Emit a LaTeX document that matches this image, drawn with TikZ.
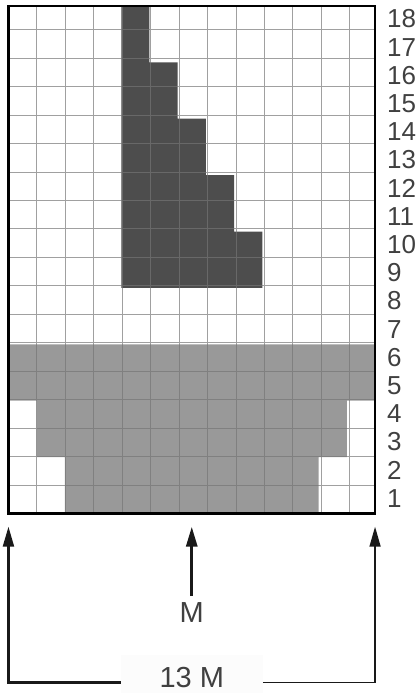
\documentclass[tikz,border=0pt]{standalone}
\definecolor{cellDark}{RGB}{77,77,77}
\definecolor{cellGray}{RGB}{153,153,153}
\definecolor{gridGray}{RGB}{117,117,117}
\definecolor{textGray}{RGB}{64,64,64}
\usepackage{fontspec}
\newfontfamily\chartfont{Liberation Sans}
\usepackage{tikz}
\usetikzlibrary{arrows.meta,positioning,calc}

\begin{document}
\begin{tikzpicture}[x=28.2pt, y=28.2pt,
    rownum/.style={anchor=west, inner sep=0pt, text=textGray, font=\chartfont\fontsize{26}{30}\selectfont},
    dimlabel/.style={text=textGray, font=\chartfont\fontsize{29}{33}\selectfont},
    dimarrow/.style={-{Triangle[length=20pt, width=11pt]}, black!90}]
  \useasboundingbox (-0.30,-6.365) rectangle (14.52,18.21);
  % Chart cells
  \fill[cellDark] (4,8) -- (9,8) -- (9,10) -- (8,10) -- (8,12) -- (7,12) -- (7,14)
    -- (6,14) -- (6,16) -- (5,16) -- (5,18) -- (4,18) -- cycle;
  \fill[cellGray] (2,0) -- (11,0) -- (11,2) -- (12,2) -- (12,4) -- (13,4) -- (13,6)
    -- (0,6) -- (0,4) -- (1,4) -- (1,2) -- (2,2) -- cycle;
  \draw[gridGray, draw opacity=0.69, line width=1pt] (0,0) grid (13,18);
  \draw[black, line width=2.6pt] (0,0) rectangle (13,18);
  % Row numbers
  \foreach \r in {1,...,18}
    \node[rownum] (row\r) at (13.42,\r-0.46) {\r};
  % Labels
  \node[dimlabel, anchor=north, inner xsep=0pt, inner ysep=6pt] (m) at (6.5,-2.93) {M};
  \node[dimlabel, fill=black!1, minimum width=141.7pt, minimum height=44pt] (tot) at (6.5,-5.8) {13 M};
  \coordinate (tipL) at (0,-0.468);
  \coordinate (tipM) at (6.5,-0.468);
  \coordinate (tipR) at (13,-0.468);
  \coordinate (cornerL) at (0,-5.99);
  \coordinate (cornerR) at (13,-5.99);
  % Arrows
  \draw[dimarrow, line width=2.2pt] (tot.west |- cornerL) -- (cornerL) -- (tipL);
  \draw[dimarrow, line width=3pt] (m.north) -- (tipM);
  \draw[dimarrow, line width=1.6pt] (tot.east |- cornerR) -- (cornerR) -- (tipR);
\end{tikzpicture}
\end{document}
